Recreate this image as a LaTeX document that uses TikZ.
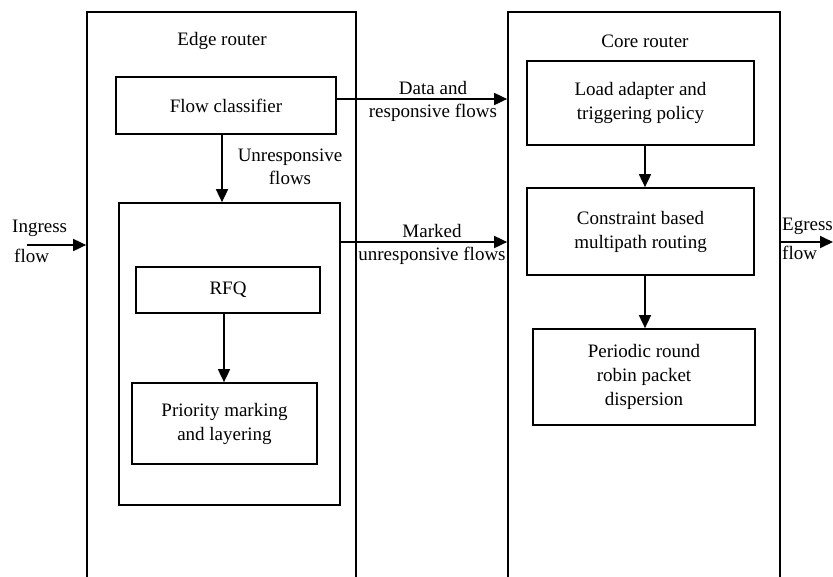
\documentclass[tikz,border=0pt]{standalone}
\usepackage{fontspec}
\setmainfont{Liberation Serif}
\usetikzlibrary{arrows.meta}
\begin{document}
\begin{tikzpicture}[x=1pt,y=-1pt,
  box/.style={draw,line width=1.7pt,rectangle,inner sep=0pt,align=center,
    font=\fontsize{19}{24}\selectfont},
  lbl/.style={inner sep=0pt,align=center,font=\fontsize{19}{23}\selectfont},
  arr/.style={line width=1.7pt,-{Triangle[length=13pt,width=12pt]}}]
\useasboundingbox (0,0) rectangle (833,576);
\clip (0,0) rectangle (833,576);
% outer routers (open at the bottom edge of the picture)
\node[box,minimum width=269pt,minimum height=608pt] (edge) at (221.5,316) {};
\node[box,minimum width=272pt,minimum height=608pt] (core) at (644,316) {};
\node[lbl] (edgelbl) at (222,41) {Edge router};
\node[lbl] (corelbl) at (645,41) {Core router};
% edge router contents
\node[box,minimum width=220pt,minimum height=57pt] (fc) at (226,105.5) {Flow classifier};
\node[box,minimum width=221pt,minimum height=302pt] (big) at (229.5,354) {};
\node[box,minimum width=184pt,minimum height=46pt] (rfq) at (228,290) {RFQ};
\node[box,minimum width=185pt,minimum height=81pt] (pm) at (224.5,423.5) {Priority marking\\and layering};
% core router contents
\node[box,minimum width=227pt,minimum height=84pt] (la) at (640.5,103) {Load adapter and\\triggering policy};
\node[box,minimum width=227pt,minimum height=87pt] (cb) at (640.5,231.5) {Constraint based\\multipath routing};
\node[box,minimum width=222pt,minimum height=96pt] (pr) at (644,377) {Periodic round\\robin packet\\dispersion};
% helper coordinates
\coordinate (yd) at (0,99);
\coordinate (ym) at (0,242);
\coordinate (xu) at (222,0);
\coordinate (xr) at (224,0);
\coordinate (xc) at (645,0);
\coordinate (in) at (27,245);
\coordinate (out) at (833,242);
% connectors
\draw[arr] (fc.south -| xu) -- (big.north -| xu);
\draw[arr] (rfq.south -| xr) -- (pm.north -| xr);
\draw[arr] (la.south -| xc) -- (cb.north -| xc);
\draw[arr] (cb.south -| xc) -- (pr.north -| xc);
\draw[arr] (fc.east |- yd) -- (core.west |- yd);
\draw[arr] (big.east |- ym) -- (core.west |- ym);
\draw[arr] (in) -- (in -| edge.west);
\draw[arr] (core.east |- out) -- (out);
% labels
\node[lbl] (ul) at (290,167) {Unresponsive\\flows};
\node[lbl] (dl) at (433,101.5) {Data and\\responsive flows};
\node[lbl] (ml) at (432,244) {Marked\\unresponsive flows};
\node[lbl,anchor=west] (ing1) at (12,228) {Ingress};
\node[lbl,anchor=west] (ing2) at (14,256) {flow};
\node[lbl,anchor=west] (eg1) at (782,226) {Egress};
\node[lbl,anchor=west] (eg2) at (782,253) {flow};
\end{tikzpicture}
\end{document}
